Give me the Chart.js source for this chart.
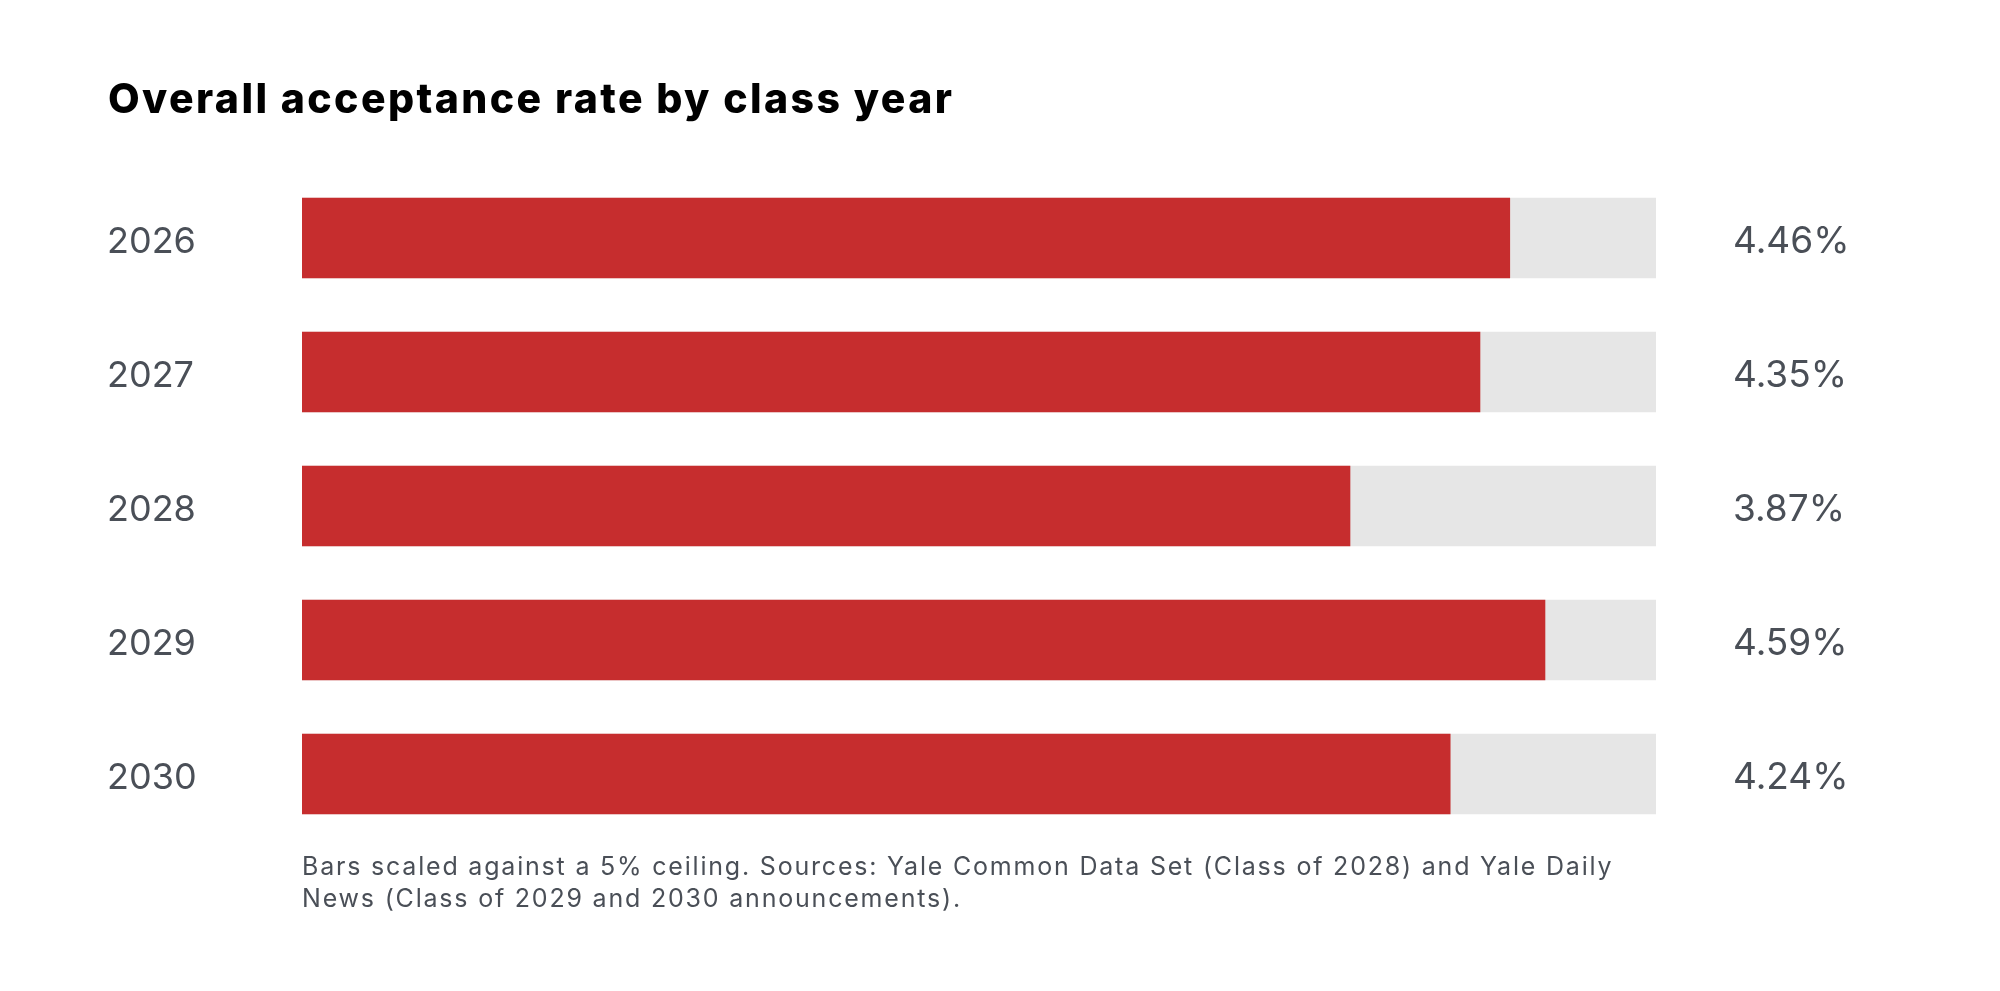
<!DOCTYPE html>
<html>
<head>
<meta charset="utf-8">
<script src="https://cdn.jsdelivr.net/npm/chart.js@4.4.1/dist/chart.umd.min.js"></script>
<style>
    html, body { margin: 0; padding: 0; background: #ffffff; }
    #wrap { position: relative; width: 2000px; height: 991px; }
</style>
</head>
<body>
<div id="wrap"><canvas id="chart"></canvas></div>
<script>
const classYears = ['2026', '2027', '2028', '2029', '2030'];
const acceptRates = [4.46, 4.35, 3.87, 4.59, 4.24];
const ceilingRates = [5, 5, 5, 5, 5];
const titleText = 'Overall acceptance rate by class year';
const footnoteLines = [
    'Bars scaled against a 5% ceiling. Sources: Yale Common Data Set (Class of 2028) and Yale Daily',
    'News (Class of 2029 and 2030 announcements).'
];

const textGray = '#4a4f57';
const fontFamily = 'Inter, "Open Sans", sans-serif';

// title, value labels on the right, footnote under the bars
const extrasPlugin = {
    id: 'extras',
    afterDatasetsDraw(chart) {
        const ctx = chart.ctx;
        const meta = chart.getDatasetMeta(0);
        const area = chart.chartArea;
        ctx.save();
        ctx.textAlign = 'left';

        ctx.fillStyle = '#000000';
        ctx.font = '800 41px ' + fontFamily;
        ctx.letterSpacing = '2.4px';
        ctx.textBaseline = 'alphabetic';
        ctx.fillText(titleText, 108, 113);

        ctx.letterSpacing = '0px';
        ctx.fillStyle = textGray;
        ctx.font = '37px ' + fontFamily;
        ctx.textBaseline = 'middle';
        meta.data.forEach((bar, i) => {
            ctx.fillText(acceptRates[i].toFixed(2) + '%', area.right + 77, bar.y + 4);
        });

        ctx.font = '25px ' + fontFamily;
        ctx.letterSpacing = '1.8px';
        ctx.textBaseline = 'alphabetic';
        footnoteLines.forEach((line, i) => {
            ctx.fillText(line, area.left, area.bottom + 34 + i * 32);
        });
        ctx.restore();
    }
};

new Chart(document.getElementById('chart'), {
    type: 'bar',
    data: {
        labels: classYears,
        datasets: [
            {
                label: 'Acceptance rate',
                data: acceptRates,
                backgroundColor: '#c62d2e',
                barThickness: 80,
                grouped: false
            },
            {
                label: 'Ceiling',
                data: ceilingRates,
                backgroundColor: '#e6e6e6',
                barThickness: 80,
                grouped: false
            }
        ]
    },
    options: {
        indexAxis: 'y',
        responsive: true,
        maintainAspectRatio: false,
        animation: false,
        layout: {
            padding: { left: 107, right: 344, top: 171, bottom: 150 }
        },
        scales: {
            x: {
                display: false,
                min: 0,
                max: 5
            },
            y: {
                grid: { display: false },
                border: { display: false },
                afterFit(scale) { scale.width = 195; },
                ticks: {
                    crossAlign: 'far',
                    labelOffset: 4,
                    color: textGray,
                    font: { family: fontFamily, size: 36 }
                }
            }
        },
        plugins: {
            legend: { display: false },
            tooltip: { enabled: false },
            title: { display: false }
        }
    },
    plugins: [extrasPlugin]
});
</script>
</body>
</html>
